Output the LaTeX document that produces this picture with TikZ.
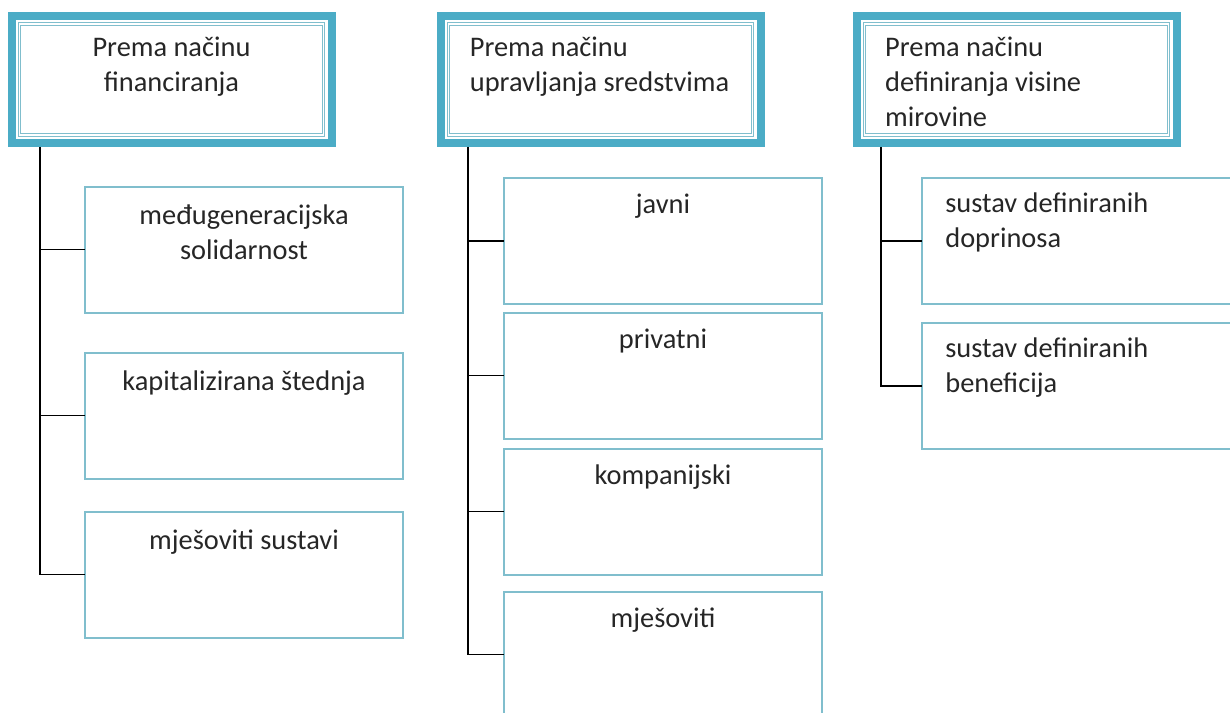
\documentclass[tikz,border=0pt]{standalone}
\usepackage{fontspec}
\setmainfont{Carlito}
\usetikzlibrary{positioning}
\definecolor{tealdark}{RGB}{75,172,198}
\definecolor{teallight}{RGB}{128,190,205}

\begin{document}
\begin{tikzpicture}[x=0.75pt, y=-0.75pt,
        every node/.style={inner sep=0pt, outer sep=0pt},
        txt/.style={font=\fontsize{21.3}{26.25}\selectfont, text=black!85},
        headbox/.style={draw=tealdark, line width=6pt, minimum width=240pt, minimum height=95.25pt},
        headinner/.style={draw=teallight, double=white, double distance=1.2pt, line width=0.6pt},
        childbox/.style={draw=teallight, line width=1.5pt, minimum width=238pt, minimum height=94.5pt},
        conn/.style={draw=black, line width=1.4pt}]
        \useasboundingbox (0,0) rectangle (1230,713);
        \clip (0,0) rectangle (1230,713);
        % headers
        \node [headbox] (hdrFin) at (171.5,79.5) {};
        \node [headbox] (hdrUpr) at (600.5,79.5) {};
        \node [headbox] (hdrDef) at (1016.5,79.5) {};
        \foreach \h in {hdrFin, hdrUpr, hdrDef}
            \draw [headinner] ([shift={(8,8)}]\h.north west) rectangle ([shift={(-8,-8)}]\h.south east);
        \node [txt, align=center, below=15.5pt of hdrFin.north] {Prema načinu\\financiranja};
        \node [txt, align=left, below right=15.5pt and 22pt of hdrUpr.north west] {Prema načinu\\upravljanja sredstvima};
        \node [txt, align=left, below right=15.5pt and 21.5pt of hdrDef.north west] {Prema načinu\\definiranja visine\\mirovine};
        % children
        \node [childbox] (fin1) at (244,249.5) {};
        \node [childbox] (fin2) at (244,415.5) {};
        \node [childbox] (fin3) at (244,574.5) {};
        \node [childbox] (upr1) at (663,241) {};
        \node [childbox] (upr2) at (663,375.5) {};
        \node [childbox] (upr3) at (663,511.5) {};
        \node [childbox] (upr4) at (663,654.5) {};
        \node [childbox] (def1) at (1081,241) {};
        \node [childbox] (def2) at (1081,386) {};
        \node [txt, align=center, below=14pt of fin1.north] {međugeneracijska\\solidarnost};
        \node [txt, align=center, below=14pt of fin2.north] {kapitalizirana štednja};
        \node [txt, align=center, below=14pt of fin3.north] {mješoviti sustavi};
        \node [txt, align=center, below=12pt of upr1.north] {javni};
        \node [txt, align=center, below=12pt of upr2.north] {privatni};
        \node [txt, align=center, below=12pt of upr3.north] {kompanijski};
        \node [txt, align=center, below=12pt of upr4.north] {mješoviti};
        \node [txt, align=left, below right=11pt and 17.25pt of def1.north west] {sustav definiranih\\doprinosa};
        \node [txt, align=left, below right=11pt and 17.25pt of def2.north west] {sustav definiranih\\beneficija};
        % connectors
        \coordinate (trunkFin) at (40,147);
        \coordinate (trunkUpr) at (468,147);
        \coordinate (trunkDef) at (881,147);
        \draw [conn] (trunkFin) |- (fin3.west);
        \draw [conn] (trunkFin |- fin1.west) -- (fin1.west);
        \draw [conn] (trunkFin |- fin2.west) -- (fin2.west);
        \draw [conn] (trunkUpr) |- (upr4.west);
        \foreach \c in {upr1, upr2, upr3}
            \draw [conn] (trunkUpr |- \c.west) -- (\c.west);
        \draw [conn] (trunkDef) |- (def2.west);
        \draw [conn] (trunkDef |- def1.west) -- (def1.west);
    \end{tikzpicture}
\end{document}
